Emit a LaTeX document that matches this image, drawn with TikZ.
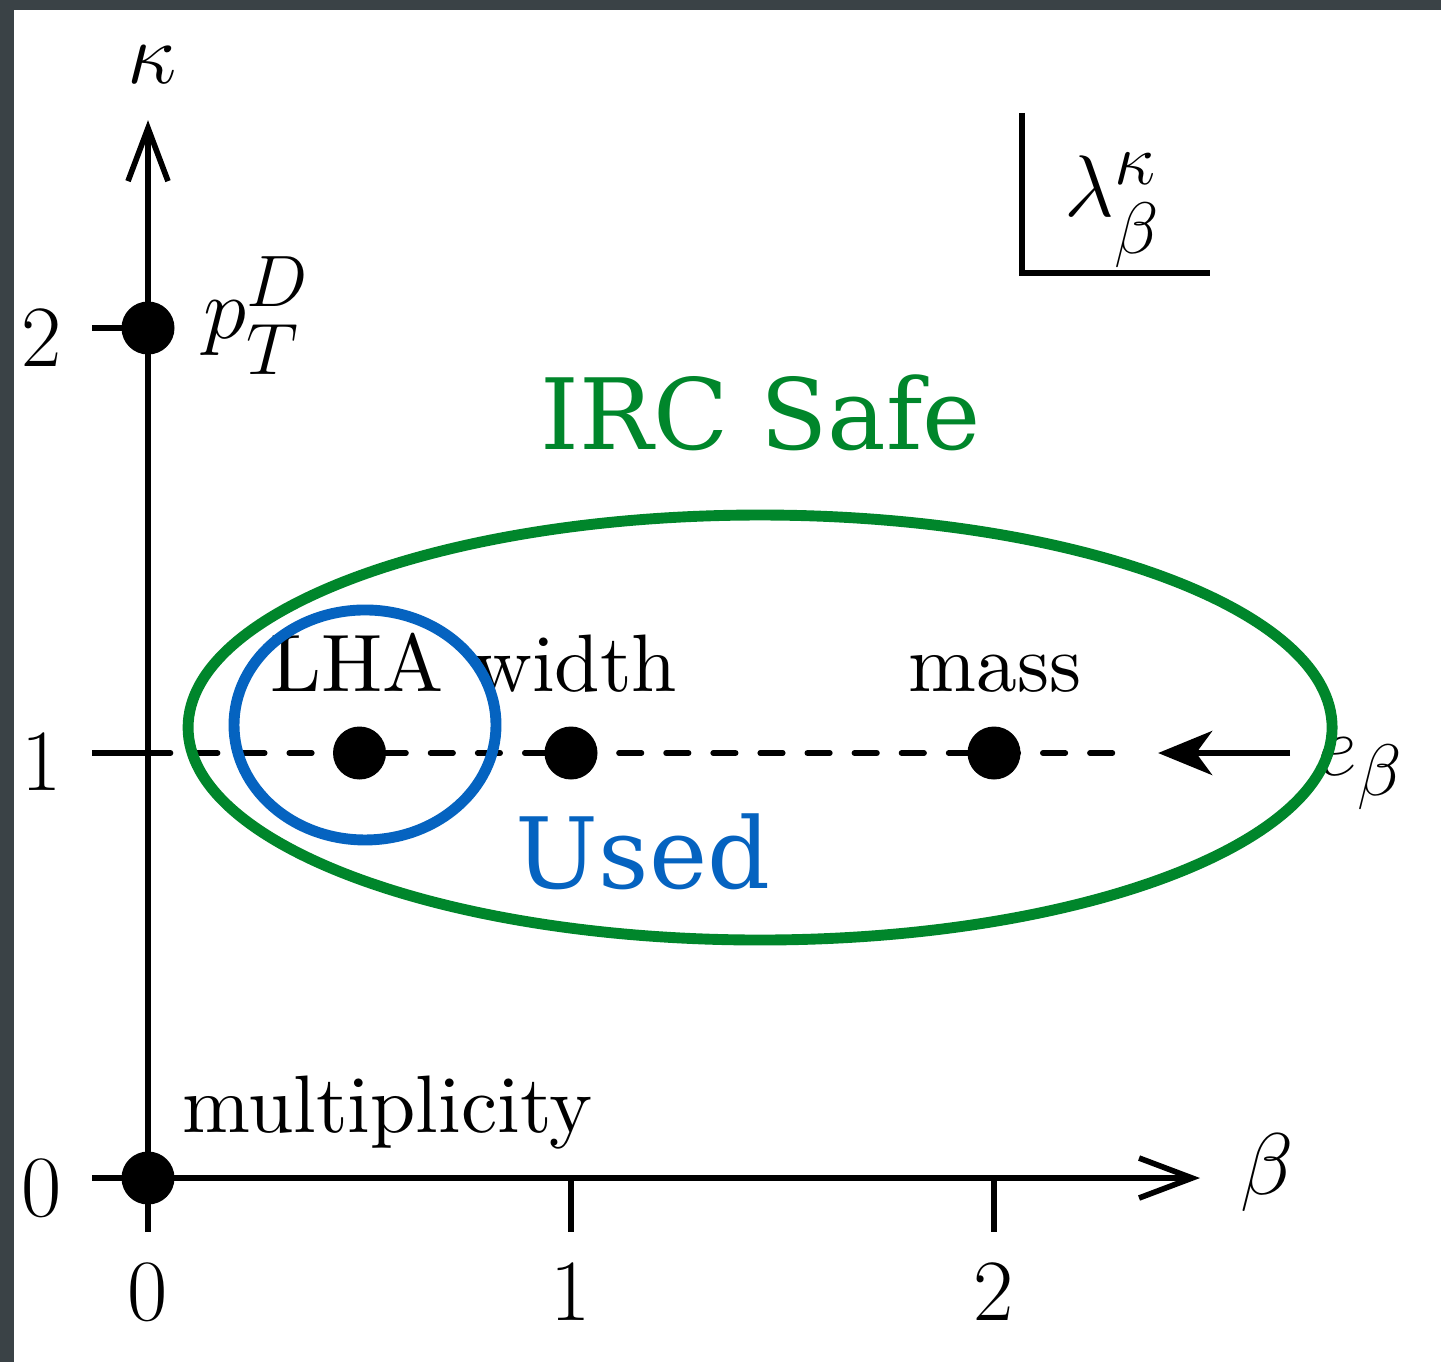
\documentclass[tikz,border=0pt]{standalone}
\usepackage{amsmath, amssymb}
\usepackage{fontspec}
\setmainfont{lmroman10-regular.otf}
\newfontfamily\tagfont{DejaVu Serif}
\usepackage{tikz}
\usetikzlibrary{arrows.meta}
\definecolor{ircgreen}{RGB}{0,134,43}
\definecolor{usedblue}{RGB}{5,99,192}
\definecolor{framegray}{RGB}{58,66,70}
\newcommand{\bigmath}{\fontsize{32}{38}\selectfont}
\newcommand{\obstext}{\fontsize{23.2}{28}\selectfont}

\begin{document}
\begin{tikzpicture}[>={Straight Barb[length=5.3mm, width=4mm]}, x=4.23cm, y=4.25cm, line width=1.6pt,
  dot/.style={circle, fill, inner sep=0pt, minimum size=5.3mm},
  num/.style={font=\bigmath, inner sep=0pt},
  obs/.style={font=\obstext, inner sep=0pt, anchor=base},
  tag/.style={font=\tagfont\fontsize{28}{34}\selectfont, inner sep=0pt, anchor=base},
  dashline/.style={line cap=round, dash pattern=on 6.4pt off 7pt}]
\fill[framegray] (-0.3499,-0.4329) rectangle (3.0567,2.7718);
\fill[white] (-0.3168,-0.4329) rectangle (3.0567,2.748);
\useasboundingbox (-0.3499,-0.4329) rectangle (3.0567,2.7718);

\coordinate (O) at (0,0);
\coordinate (ktop) at (0,2.489); \coordinate (kbot) at (0,-0.127);
\coordinate (bright) at (2.487,0); \coordinate (bleft) at (-0.132,0);
\draw[->] (kbot) -- (ktop);
\draw[->] (bleft) -- (bright);
\foreach \k in {1,2} \draw (-0.132,\k) -- (0,\k);
\foreach \b in {1,2} \draw (\b,0) -- (\b,-0.127);

\coordinate (dstart) at (0,1); \coordinate (dend) at (2.286,1);
\draw[dashline] (dstart) -- (dend);
\coordinate (etail) at (2.70,1); \coordinate (ehead) at (2.388,1);
\draw[-{Stealth[length=5.4mm, width=4.4mm, inset=1.6mm]}] (etail) -- (ehead);

\node[dot] (mult) at (O) {};
\node[dot] (ptd) at (0,2) {};
\node[dot] (lha) at (0.5,1) {};
\node[dot] (wid) at (1,1) {};
\node[dot] (mas) at (2,1) {};

\node[num] (klabel) at (0.01,2.619) {$\kappa$};
\node[num] (blabel) at (2.645,0.012) {$\beta$};
\node[num] (k0) at (-0.251,-0.0235) {$0$};
\node[num] (k1) at (-0.251,0.979) {$1$};
\node[num] (k2) at (-0.251,1.976) {$2$};
\node[num] (b0) at (0,-0.27) {$0$};
\node[num] (b1) at (1,-0.27) {$1$};
\node[num] (b2) at (2,-0.27) {$2$};
\node[num, anchor=base west] (ptdlabel) at (0.125,1.975) {$p_T^D$};
\node[num, anchor=base west] (elabel) at (2.759,0.948) {$e_\beta$};

\draw (2.066,2.506) -- (2.066,2.129) -- (2.511,2.129);
\node[num, anchor=base west] (lambda) at (2.161,2.262) {$\lambda_\beta^\kappa$};

\node[obs] (lhalabel) at (0.495,1.144) {LHA};
\node[obs] (widlabel) at (1.01,1.144) {width};
\node[obs] (maslabel) at (2.002,1.144) {mass};
\node[obs, anchor=base west] (multlabel) at (0.075,0.106) {multiplicity};

\draw[ircgreen, line width=3.1pt] (1.447,1.06) ellipse [x radius=5.72cm, y radius=2.125cm];
\draw[usedblue, line width=3.1pt] (0.513,1.066) ellipse [x radius=1.31cm, y radius=1.15cm];
\node[tag, text=ircgreen] (irc) at (1.449,1.713) {IRC Safe};
\node[tag, text=usedblue] (used) at (1.170,0.682) {Used};
\end{tikzpicture}
\end{document}
